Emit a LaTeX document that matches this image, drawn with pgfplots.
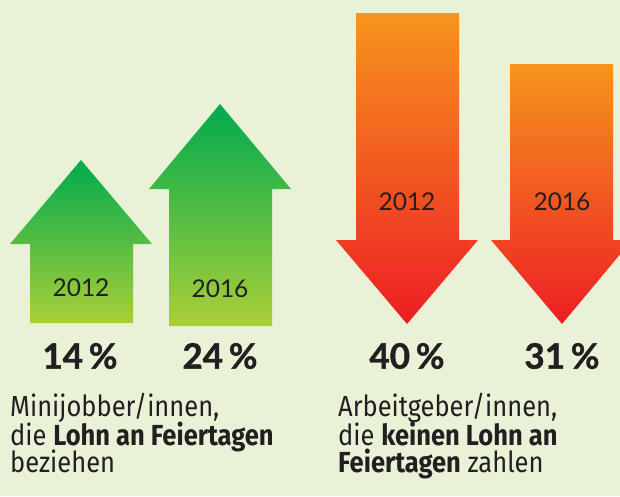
\documentclass[border=0pt]{standalone}
\usepackage{pgfplots}
\pgfplotsset{compat=1.18}
\usepackage{fontspec}
\setmainfont{Lato}[BoldFeatures={FakeBold=1.2}]
\newfontfamily\descfont[FakeStretch=0.88]{Fira Sans}
\definecolor{bg}{RGB}{233,242,214}
\definecolor{gtop}{RGB}{0,170,78}
\definecolor{gbot}{RGB}{170,207,56}
\definecolor{otop}{RGB}{247,148,29}
\definecolor{obot}{RGB}{237,30,36}
\definecolor{txt}{RGB}{35,31,32}
\begin{document}
\begin{tikzpicture}
\begin{axis}[
  scale only axis, width=620pt, height=496pt,
  xmin=0, xmax=620, ymin=0, ymax=496, y dir=reverse,
  hide axis, clip=true,
]
% background
\addplot[fill=bg, draw=none] coordinates {(0,0) (620,0) (620,496) (0,496) (0,0)};
% green up arrows (Minijobber: 2012 = 14%, 2016 = 24%)
\addplot[draw=none, top color=gtop, bottom color=gbot] coordinates {
 (81,160) (152,244) (133,244) (133,323) (30,323) (30,244) (10,244) (81,160)};
\addplot[draw=none, top color=gtop, bottom color=gbot] coordinates {
 (220,104) (291,189) (272,189) (272,326) (169,326) (169,189) (149,189) (220,104)};
% orange down arrows (Arbeitgeber: 2012 = 40%, 2016 = 31%)
\addplot[draw=none, top color=otop, bottom color=obot] coordinates {
 (356,13) (459,13) (459,240) (478,240) (407,324) (336,240) (356,240) (356,13)};
\addplot[draw=none, top color=otop, bottom color=obot] coordinates {
 (510,64) (613,64) (613,240) (632,240) (562,324) (491,240) (510,240) (510,64)};
% year labels
\begin{scope}[every node/.style={text=txt, font=\fontsize{24.5}{24.5}\selectfont}]
\node at (axis cs:81,288) {2012};
\node at (axis cs:220,289) {2016};
\node at (axis cs:407,202) {2012};
\node at (axis cs:562,202) {2016};
\end{scope}
% percentages
\begin{scope}[every node/.style={text=txt, font=\fontsize{35}{35}\selectfont\bfseries}]
\node at (axis cs:80,356) {14\,\%};
\node at (axis cs:220,356) {24\,\%};
\node at (axis cs:407,356) {40\,\%};
\node at (axis cs:562,356) {31\,\%};
\end{scope}
% descriptions
\begin{scope}[every node/.style={text=txt, anchor=base west, inner sep=0pt, font=\descfont\fontsize{29}{29}\selectfont}]
\node at (axis cs:10,416.7) {Minijobber/innen,};
\node at (axis cs:10,445) {die \textbf{Lohn an Feiertagen}};
\node at (axis cs:10,472) {beziehen};
\node at (axis cs:338,416.7) {Arbeitgeber/innen,};
\node at (axis cs:338,445) {die \textbf{keinen Lohn an}};
\node at (axis cs:338,472) {\textbf{Feiertagen} zahlen};
\end{scope}
\end{axis}
\end{tikzpicture}
\end{document}
